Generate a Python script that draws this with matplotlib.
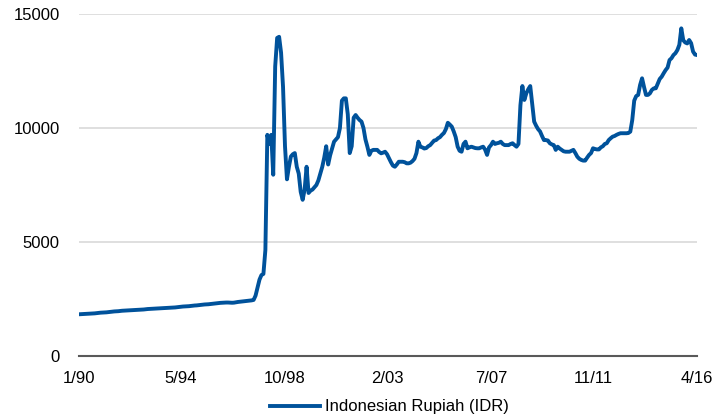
import matplotlib
matplotlib.use("Agg")
import matplotlib.pyplot as plt
import numpy as np

plt.rcParams['font.family'] = ['Liberation Sans', 'DejaVu Sans']

# Monthly IDR per USD, Jan 1990 .. Apr 2016
idr_1990 = [1830, 1835, 1840, 1845, 1850, 1855, 1860, 1865, 1870, 1880, 1890, 1900]
idr_1991 = [1905, 1910, 1915, 1925, 1935, 1945, 1955, 1960, 1965, 1975, 1985, 1990]
idr_1992 = [1995, 2000, 2005, 2010, 2015, 2020, 2025, 2030, 2035, 2040, 2050, 2060]
idr_1993 = [2065, 2070, 2075, 2080, 2085, 2090, 2095, 2100, 2105, 2110, 2115, 2120]
idr_1994 = [2125, 2130, 2140, 2150, 2160, 2170, 2175, 2180, 2185, 2195, 2205, 2215]
idr_1995 = [2220, 2230, 2240, 2250, 2260, 2265, 2270, 2280, 2290, 2300, 2310, 2320]
idr_1996 = [2330, 2335, 2340, 2345, 2345, 2340, 2335, 2340, 2355, 2370, 2380, 2390]
idr_1997 = [2400, 2410, 2420, 2430, 2440, 2460, 2650, 3000, 3350, 3550, 3600, 4650]
idr_1998 = [9700, 9300, 9700, 7950, 12700, 13950, 14000, 13300, 11800, 9200, 7750, 8300]
idr_1999 = [8750, 8850, 8900, 8300, 8000, 7200, 6850, 7300, 8300, 7150, 7250, 7300]
idr_2000 = [7400, 7500, 7700, 8000, 8300, 8700, 9200, 8400, 8800, 9100, 9400, 9500]
idr_2001 = [9600, 10000, 11200, 11300, 11300, 10600, 8900, 9200, 10450, 10570, 10450, 10350]
idr_2002 = [10280, 10000, 9500, 9180, 8820, 9000, 9040, 9040, 9040, 8950, 8890, 8920]
idr_2003 = [8960, 8850, 8670, 8500, 8350, 8300, 8400, 8520, 8520, 8520, 8500, 8450]
idr_2004 = [8450, 8480, 8550, 8650, 8900, 9400, 9180, 9150, 9100, 9120, 9200, 9250]
idr_2005 = [9350, 9450, 9470, 9550, 9600, 9700, 9780, 9950, 10230, 10150, 10060, 9850]
idr_2006 = [9600, 9180, 9000, 8960, 9300, 9400, 9110, 9150, 9180, 9150, 9120, 9110]
idr_2007 = [9110, 9150, 9180, 9050, 8820, 9150, 9250, 9400, 9300, 9330, 9350, 9400]
idr_2008 = [9300, 9250, 9250, 9250, 9300, 9330, 9250, 9180, 9300, 11000, 11840, 11230]
idr_2009 = [11520, 11700, 11840, 11080, 10280, 10100, 9950, 9850, 9650, 9470, 9470, 9450]
idr_2010 = [9330, 9280, 9250, 9040, 9180, 9100, 9040, 8980, 8960, 8960, 8960, 9000]
idr_2011 = [9040, 8900, 8740, 8650, 8600, 8570, 8570, 8700, 8820, 8900, 9110, 9080]
idr_2012 = [9060, 9060, 9150, 9200, 9300, 9330, 9470, 9550, 9620, 9650, 9700, 9740]
idr_2013 = [9770, 9770, 9770, 9770, 9780, 9840, 10350, 11200, 11400, 11450, 11890, 12180]
idr_2014 = [11800, 11450, 11450, 11520, 11670, 11740, 11740, 11950, 12150, 12250, 12400, 12540]
idr_2015 = [12650, 12980, 13060, 13200, 13280, 13420, 13650, 14370, 13850, 13750, 13710, 13860]
idr_2016 = [13720, 13350, 13220, 13200]

idr = (idr_1990 + idr_1991 + idr_1992 + idr_1993 + idr_1994 + idr_1995 + idr_1996
       + idr_1997 + idr_1998 + idr_1999 + idr_2000 + idr_2001 + idr_2002 + idr_2003
       + idr_2004 + idr_2005 + idr_2006 + idr_2007 + idr_2008 + idr_2009 + idr_2010
       + idr_2011 + idr_2012 + idr_2013 + idr_2014 + idr_2015 + idr_2016)

# x tick labels (month/year) and their month offsets from Jan 1990
tick_labels = ["1/90", "5/94", "10/98", "2/03", "7/07", "11/11", "4/16"]
tick_months = [0, 52, 105, 157, 210, 262, 315]

y_ticks = [0, 5000, 10000, 15000]

months = np.arange(len(idr))

fig = plt.figure(figsize=(7.14, 4.16), dpi=100)
ax = fig.add_axes([79 / 714, 1 - 356 / 416, (697 - 79) / 714, (356 - 14) / 416])

line, = ax.plot(months, idr, color="#00529b", lw=2.8, solid_joinstyle="round",
                label="Indonesian Rupiah (IDR)")

ax.set_xlim(0, len(idr) - 1)
ax.set_ylim(0, 15000)
ax.set_yticks(y_ticks)
ax.set_yticklabels([str(v) for v in y_ticks])
ax.set_xticks(tick_months)
ax.set_xticklabels(tick_labels)

for v in y_ticks[1:]:
    ax.axhline(v, color="#d9d9d9", lw=1.2, zorder=0)

for s in ["top", "right", "left"]:
    ax.spines[s].set_visible(False)
ax.spines["bottom"].set_color("#595959")
ax.spines["bottom"].set_linewidth(1.5)

ax.tick_params(axis="both", length=0, labelsize=12, colors="black")
ax.tick_params(axis="y", pad=14)
ax.tick_params(axis="x", pad=11)

fig.legend(handles=[line], loc="center", bbox_to_anchor=(389 / 714, 1 - 407 / 416),
           frameon=False, fontsize=12, handlelength=3.0, handletextpad=0.3,
           borderaxespad=0, borderpad=0)

fig.savefig("out.png", dpi=100)
